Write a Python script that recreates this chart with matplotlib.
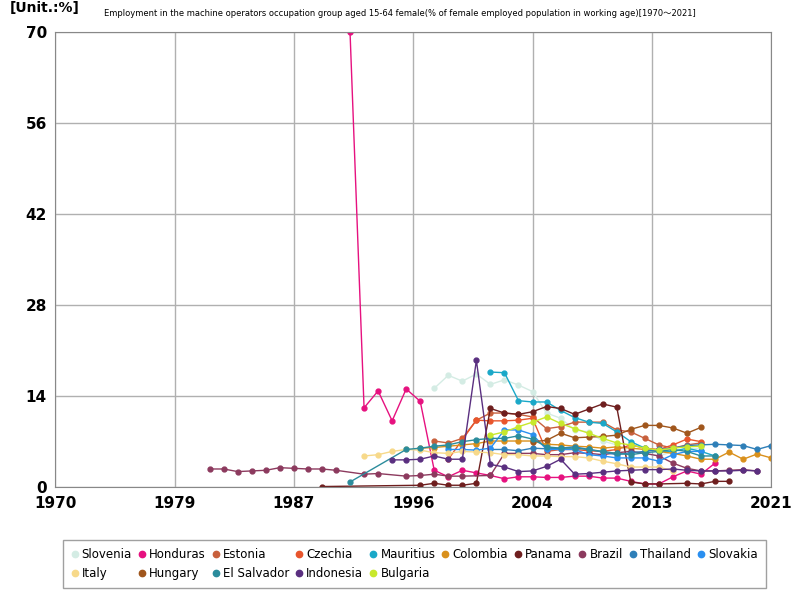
import numpy as np
import matplotlib.pyplot as plt

plt.rcParams['font.family'] = ['DejaVu Sans', 'Noto Sans CJK JP']

# values (% of female employed population)
slovenia_years = list(range(1997, 2017))
slovenia = [15.2, 17.2, 16.3, 17.4, 15.8, 16.5, 15.7, 14.7, 11.4, 10.6, 8.8, 8.5, 7.1, 6.5, 5.3, 5.2, 4.8, 5.5, 5.8, 6.0]

honduras_years = list(range(1991, 2018))
honduras = [70.0, 12.2, 14.8, 10.2, 15.1, 13.2, 2.6, 1.6, 2.6, 2.2, 1.8, 1.3, 1.6, 1.6, 1.5, 1.5, 1.7, 1.7, 1.4, 1.4,
            0.9, 0.5, 0.5, 1.6, 2.5, 2.0, 3.7]

estonia_years = list(range(1997, 2017))
estonia = [7.1, 6.8, 7.5, 10.3, 11.4, 11.4, 11.2, 10.8, 9.0, 9.3, 10.0, 10.0, 10.0, 8.8, 8.5, 7.5, 6.5, 6.0, 6.5, 6.8]

czechia_years = list(range(1998, 2017))
czechia = [4.3, 7.3, 10.3, 10.2, 10.2, 10.3, 10.6, 5.5, 5.8, 5.8, 5.6, 5.5, 5.8, 6.5, 6.0, 5.8, 6.5, 7.4, 7.0]

mauritius_years = list(range(2001, 2018))
mauritius = [17.7, 17.6, 13.3, 13.1, 13.1, 11.8, 10.7, 10.0, 9.8, 8.5, 7.0, 6.0, 5.5, 5.5, 6.0, 5.5, 4.8]

colombia_years = list(range(1996, 2022))
colombia = [6.0, 6.1, 6.3, 6.5, 6.7, 7.1, 7.1, 7.1, 7.1, 6.6, 6.5, 6.3, 6.2, 6.0, 6.2, 6.0, 5.8, 5.5, 5.2, 4.8,
            4.3, 4.3, 5.4, 4.3, 5.1, 4.5]

panama_years = [1989, 1996, 1997, 1998, 1999, 2000, 2001, 2002, 2003, 2004, 2005, 2006, 2007, 2008, 2009, 2010,
                2011, 2012, 2013, 2015, 2016, 2017, 2018]
panama = [0.1, 0.3, 0.6, 0.3, 0.3, 0.6, 12.1, 11.4, 11.2, 11.6, 12.4, 12.1, 11.2, 12.0, 12.8, 12.3,
          0.8, 0.5, 0.5, 0.6, 0.5, 0.9, 0.9]

brazil_years = [1981, 1982, 1983, 1984, 1985, 1986, 1987, 1988, 1989, 1990, 1992, 1993, 1995, 1996, 1997, 1998,
                1999, 2001, 2002, 2003, 2004, 2005, 2006, 2007, 2008, 2009, 2010, 2011, 2012, 2013, 2014, 2015,
                2016, 2017, 2018, 2019, 2020]
brazil = [2.8, 2.8, 2.4, 2.5, 2.6, 3.0, 2.9, 2.8, 2.8, 2.6, 2.0, 2.1, 1.7, 1.8, 2.0, 1.7,
          1.7, 1.8, 5.2, 5.2, 5.2, 5.0, 5.0, 5.3, 5.2, 5.0, 5.3, 5.5, 5.2, 4.8, 3.7, 2.9,
          2.5, 2.5, 2.6, 2.7, 2.5]

thailand_years = list(range(2001, 2022))
thailand = [5.8, 5.8, 5.6, 6.0, 5.9, 6.0, 6.2, 5.8, 5.4, 5.0, 5.3, 5.5, 5.8, 6.0, 6.4, 6.5, 6.6, 6.5, 6.4, 5.8, 6.4]

slovakia_years = list(range(1998, 2017))
slovakia = [5.8, 5.8, 5.7, 6.0, 8.8, 8.8, 8.1, 5.8, 5.8, 5.8, 5.0, 4.8, 4.5, 4.5, 4.5, 4.0, 5.0, 5.5, 5.5]

italy_years = list(range(1992, 2015))
italy = [4.8, 5.0, 5.5, 5.8, 5.7, 5.3, 5.2, 5.5, 5.4, 5.3, 5.0, 5.0, 4.8, 4.8, 4.7, 4.7, 4.5, 4.0, 3.6, 3.1,
         3.1, 3.1, 2.5]

hungary_years = list(range(2004, 2017))
hungary = [7.0, 7.2, 8.3, 7.6, 7.7, 7.8, 8.0, 8.9, 9.5, 9.5, 9.1, 8.3, 9.2]

elsalvador_years = [1991] + list(range(1995, 2018))
elsalvador = [0.8, 5.8, 6.0, 6.3, 6.5, 7.0, 7.3, 7.5, 7.5, 7.9, 7.4, 6.2, 6.0, 6.0, 5.8, 5.5, 5.2, 5.0, 5.3,
              5.5, 5.8, 5.5, 4.8, 4.8]

indonesia_years = list(range(1994, 2021))
indonesia = [4.2, 4.2, 4.3, 4.8, 4.3, 4.3, 19.5, 3.5, 3.1, 2.4, 2.5, 3.2, 4.3, 2.0, 2.1, 2.3, 2.5, 2.6, 2.7, 2.7,
             2.8, 2.6, 2.5, 2.5, 2.5, 2.6, 2.5]

bulgaria_years = list(range(2001, 2017))
bulgaria = [8.0, 8.5, 9.3, 10.0, 10.8, 9.8, 9.0, 8.3, 7.5, 6.8, 6.5, 6.0, 5.7, 6.0, 6.2, 6.3]

series = [
    ('Slovenia', slovenia_years, slovenia, '#d4ece4'),
    ('Honduras', honduras_years, honduras, '#e6117f'),
    ('Estonia', estonia_years, estonia, '#c8603c'),
    ('Czechia', czechia_years, czechia, '#e8552c'),
    ('Mauritius', mauritius_years, mauritius, '#1aa8c8'),
    ('Colombia', colombia_years, colombia, '#d9901c'),
    ('Panama', panama_years, panama, '#6e1e1e'),
    ('Brazil', brazil_years, brazil, '#8c3a5e'),
    ('Thailand', thailand_years, thailand, '#2e7fb8'),
    ('Slovakia', slovakia_years, slovakia, '#2a8ff0'),
    ('Italy', italy_years, italy, '#f7d98a'),
    ('Hungary', hungary_years, hungary, '#a0561c'),
    ('El Salvador', elsalvador_years, elsalvador, '#2b8c9c'),
    ('Indonesia', indonesia_years, indonesia, '#5a2f80'),
    ('Bulgaria', bulgaria_years, bulgaria, '#c8e82c'),
]

fig = plt.figure(figsize=(8, 6), dpi=100)
ax = fig.add_axes([0.069, 0.188, 0.895, 0.759])

lines = []
for name, yrs, vals, col in series:
    ln, = ax.plot(yrs, vals, color=col, lw=1, marker='o', ms=3.5, label=name)
    lines.append(ln)

ax.set_xlim(1970, 2021)
ax.set_ylim(0, 70)
ax.set_xticks(np.linspace(1970, 2021, 7))
ax.set_xticklabels(['1970', '1979', '1987', '1996', '2004', '2013', '2021'])
ax.set_yticks([0, 14, 28, 42, 56, 70])
for lab in ax.get_xticklabels() + ax.get_yticklabels():
    lab.set_fontweight('bold')
    lab.set_fontsize(11)
ax.tick_params(length=0, pad=6)
ax.grid(color='#b0b0b0', lw=1)
for s in ax.spines.values():
    s.set_color('#888888')

fig.text(0.5, 0.978, 'Employment in the machine operators occupation group aged 15-64 female(% of female employed '
         'population in working age)[1970\uff5e2021]', ha='center', va='center', fontsize=6)
fig.text(0.012, 0.999, '[Unit.:%]', ha='left', va='top', fontsize=10, fontweight='bold')

# legend is filled row by row in the reference; matplotlib fills columns
order = []
for j in range(5):
    order += [j, 10 + j]
order += list(range(5, 10))
handles = [lines[i] for i in order]
labels = [series[i][0] for i in order]
leg = fig.legend(handles, labels, loc='upper left', bbox_to_anchor=(0.071, 0.11), ncol=10, fontsize=8.5,
                 frameon=True, handlelength=0.6, handletextpad=0.3, columnspacing=0.55, markerscale=1.3,
                 edgecolor='#888888', fancybox=False, borderpad=0.7)
for h in leg.legend_handles:
    h.set_linestyle('none')

fig.savefig('out.png')
